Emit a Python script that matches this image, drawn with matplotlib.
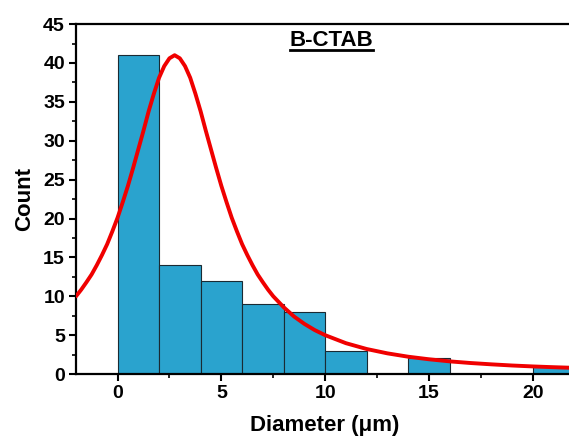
import numpy as np
import matplotlib
matplotlib.use("Agg")
import matplotlib.pyplot as plt
from matplotlib.ticker import MultipleLocator
from matplotlib.lines import Line2D

# ----------------------------
# Data
# ----------------------------
bin_left = [0, 2, 4, 6, 8, 10, 12, 14, 16, 18, 20]
bin_width = 2
counts = [41, 14, 12, 9, 8, 3, 0, 2, 0, 0, 1]

# fitted curve
fit_x = [-2, -1.75, -1.5, -1.25, -1, -0.75, -0.5, -0.25, 0, 0.25, 0.5, 0.75,
         1, 1.25, 1.5, 1.75, 2, 2.25, 2.5, 2.75, 3, 3.25, 3.5, 3.75, 4, 4.25,
         4.5, 4.75, 5, 5.25, 5.5, 5.75, 6, 6.25, 6.5, 6.75, 7, 7.25, 7.5,
         8, 8.5, 9, 9.5, 10, 11, 12, 13, 14, 15, 16, 17, 18, 19, 20, 21, 22]
fit_y = [10.0, 10.85, 11.8, 12.8, 14.0, 15.3, 16.7, 18.35, 20.1, 22.1, 24.2,
         26.5, 28.9, 31.3, 33.8, 36.05, 38.1, 39.6, 40.6, 41.0, 40.6, 39.6,
         38.1, 36.05, 33.8, 31.3, 28.9, 26.5, 24.2, 22.1, 20.1, 18.35, 16.7,
         15.3, 14.0, 12.8, 11.8, 10.85, 10.0, 8.6, 7.4, 6.45, 5.65, 5.0, 3.97,
         3.22, 2.66, 2.23, 1.9, 1.63, 1.42, 1.25, 1.1, 0.98, 0.88, 0.79]

plt.rcParams["font.family"] = ["Liberation Sans", "DejaVu Sans"]
plt.rcParams["font.weight"] = "bold"

fig = plt.figure(figsize=(5.69, 4.38), dpi=100)
# axes runs past the right edge, like the cropped original
ax = fig.add_axes([0.1336, 0.146, 1.0093 - 0.1336, 0.945 - 0.146])

ax.bar(bin_left, counts, width=bin_width, align="edge",
       color="#2AA3CE", edgecolor="#1a2a33", linewidth=0.8, zorder=2)
ax.plot(fit_x, fit_y, color="#F00000", linewidth=2.8, zorder=3,
        solid_joinstyle="round", solid_capstyle="round")

ax.set_xlim(-2, 22)
ax.set_ylim(0, 45)
ax.xaxis.set_major_locator(MultipleLocator(5))
ax.xaxis.set_minor_locator(MultipleLocator(2.5))
ax.yaxis.set_major_locator(MultipleLocator(5))
ax.yaxis.set_minor_locator(MultipleLocator(2.5))

for sp in ax.spines.values():
    sp.set_linewidth(1.6)
ax.tick_params(which="major", direction="out", length=5, width=1.5,
               labelsize=14, pad=3)
ax.tick_params(which="minor", direction="out", length=3, width=1.2)
for lab in ax.get_xticklabels() + ax.get_yticklabels():
    lab.set_fontweight("bold")

ax.set_xlabel("Diameter (\u03bcm)", fontsize=16, fontweight="bold", labelpad=9)
ax.set_ylabel("Count", fontsize=16, fontweight="bold", labelpad=6)

title = ax.text(10.3, 42.9, "B-CTAB", fontsize=16, fontweight="bold",
                ha="center", va="center", zorder=4)

# underline under the title
fig.canvas.draw()
bb = title.get_window_extent().transformed(fig.transFigure.inverted())
y_ul = bb.y0 + 0.002
fig.add_artist(Line2D([bb.x0, bb.x1], [y_ul, y_ul], transform=fig.transFigure,
                      color="black", linewidth=2.0))

fig.savefig("out.png", dpi=100)
